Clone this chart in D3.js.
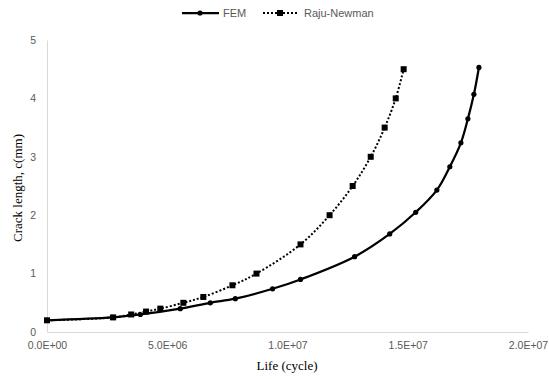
<!DOCTYPE html>
<html>
<head>
<meta charset="utf-8">
<script src="https://cdn.jsdelivr.net/npm/d3@7"></script>
<style>
  html, body { margin: 0; padding: 0; background: #fff; }
  svg { display: block; }
</style>
</head>
<body>
<svg id="chart" width="549" height="379"></svg>
<script>
// Fatigue crack growth: crack length c (mm) against life (cycles)
const femLife  = [0, 2.71e6, 3.88e6, 5.54e6, 6.79e6, 7.83e6, 9.38e6, 1.054e7, 1.279e7, 1.425e7, 1.533e7, 1.621e7, 1.675e7, 1.721e7, 1.750e7, 1.775e7, 1.796e7];
const femCrack = [0.2, 0.25, 0.3, 0.4, 0.5, 0.57, 0.74, 0.9, 1.29, 1.68, 2.05, 2.43, 2.83, 3.24, 3.65, 4.07, 4.53];

const rnLife  = [0, 2.75e6, 3.5e6, 4.12e6, 4.71e6, 5.67e6, 6.5e6, 7.71e6, 8.71e6, 1.054e7, 1.175e7, 1.271e7, 1.346e7, 1.404e7, 1.45e7, 1.483e7];
const rnCrack = [0.2, 0.25, 0.3, 0.35, 0.4, 0.5, 0.6, 0.8, 1.0, 1.5, 2.0, 2.5, 3.0, 3.5, 4.0, 4.5];

const xTicks = [0, 5e6, 1e7, 1.5e7, 2e7];
const yTicks = [0, 1, 2, 3, 4, 5];
const seriesNames = ["FEM", "Raju-Newman"];

const svg = d3.select("#chart");
const x = d3.scaleLinear().domain([0, 2e7]).range([47, 528]);
const y = d3.scaleLinear().domain([0, 5]).range([332, 40]);

const tickFont = "'Liberation Sans', Arial, sans-serif";
const titleFont = "'Liberation Serif', 'Times New Roman', serif";

// axes
const xAxis = svg.append("g").attr("transform", `translate(0,${y(0)})`)
  .call(d3.axisBottom(x).tickValues(xTicks).tickSize(0).tickPadding(10)
    .tickFormat(d => d.toExponential(1).replace("e", "E").replace(/E([+-])(\d)$/, "E$10$2")));
const yAxis = svg.append("g").attr("transform", `translate(${x(0)},0)`)
  .call(d3.axisLeft(y).tickValues(yTicks).tickSize(0).tickPadding(11).tickFormat(d3.format("d")));

[xAxis, yAxis].forEach(g => {
  g.select(".domain").attr("stroke", "#d9d9d9").attr("stroke-width", 1);
  g.selectAll("text").attr("fill", "#595959").style("font-family", tickFont).style("font-size", "10.5px");
});

// axis titles
svg.append("text").attr("x", 287).attr("y", 370).attr("text-anchor", "middle")
  .style("font-family", titleFont).style("font-size", "13px").attr("fill", "#000")
  .text("Life (cycle)");
svg.append("text").attr("transform", "translate(22,188) rotate(-90)").attr("text-anchor", "middle")
  .style("font-family", titleFont).style("font-size", "13px").attr("fill", "#000")
  .text("Crack length, c(mm)");

const line = d3.line().curve(d3.curveCatmullRom.alpha(0.5));
const femPts = femLife.map((v, i) => [x(v), y(femCrack[i])]);
const rnPts = rnLife.map((v, i) => [x(v), y(rnCrack[i])]);

// Raju-Newman: dotted line with square markers
svg.append("path").attr("d", line(rnPts)).attr("fill", "none")
  .attr("stroke", "#000").attr("stroke-width", 2).attr("stroke-dasharray", "2 2");
svg.append("g").selectAll("rect").data(rnPts).join("rect")
  .attr("x", d => d[0] - 3).attr("y", d => d[1] - 3).attr("width", 6).attr("height", 6).attr("fill", "#000");

// FEM: solid line with circle markers
svg.append("path").attr("d", line(femPts)).attr("fill", "none")
  .attr("stroke", "#000").attr("stroke-width", 2.25);
svg.append("g").selectAll("circle").data(femPts).join("circle")
  .attr("cx", d => d[0]).attr("cy", d => d[1]).attr("r", 2.6).attr("fill", "#000");

// legend
const lg = svg.append("g").style("font-family", tickFont).style("font-size", "11px");
lg.append("line").attr("x1", 182).attr("x2", 219).attr("y1", 13).attr("y2", 13).attr("stroke", "#000").attr("stroke-width", 2.25);
lg.append("circle").attr("cx", 200).attr("cy", 13).attr("r", 2.6).attr("fill", "#000");
lg.append("text").attr("x", 223).attr("y", 17).attr("fill", "#595959").text(seriesNames[0]);
lg.append("line").attr("x1", 263).attr("x2", 297).attr("y1", 13).attr("y2", 13).attr("stroke", "#000").attr("stroke-width", 2).attr("stroke-dasharray", "2 2");
lg.append("rect").attr("x", 277).attr("y", 10).attr("width", 6).attr("height", 6).attr("fill", "#000");
lg.append("text").attr("x", 304).attr("y", 17).attr("fill", "#595959").text(seriesNames[1]);
</script>
</body>
</html>
